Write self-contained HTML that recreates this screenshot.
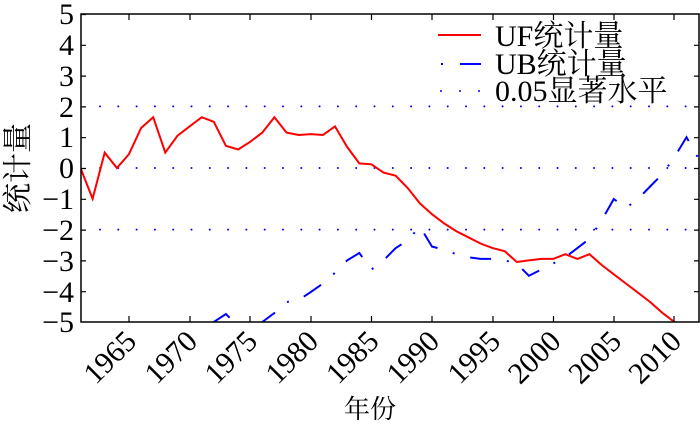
<!DOCTYPE html>
<html><head><meta charset="utf-8"><style>
body{margin:0;background:#fff}
text{font-family:"Liberation Serif","Times New Roman",Times,"DejaVu Serif","Noto Serif CJK SC",serif !important}
</style></head><body>
<svg width="700" height="424" viewBox="0 0 700 424" xmlns="http://www.w3.org/2000/svg" style="font-family:'Liberation Serif','DejaVu Serif',serif">
<defs><clipPath id="c"><rect x="81" y="14" width="618" height="308"/></clipPath></defs>
<g clip-path="url(#c)" fill="none">
<g stroke="#0000ff" stroke-width="2" stroke-dasharray="0 18.3" stroke-linecap="round">
<line x1="100" y1="106.4" x2="699" y2="106.4"/>
<line x1="100" y1="168" x2="699" y2="168"/>
<line x1="100" y1="229.6" x2="699" y2="229.6"/>
</g>
<polyline stroke="#ff0000" stroke-width="2" points="80.5,168 92.6,198.8 104.7,152.6 116.9,168 129,154.1 141.1,128 153.2,117.2 165.3,152.6 177.5,135.7 189.6,126.4 201.7,117.2 213.8,121.8 225.9,145.8 238.1,149.5 250.2,141.8 262.3,132.6 274.4,117.2 286.5,132.6 298.7,135 310.8,134.1 322.9,135 335,126.4 347.1,146.9 359.3,163.4 371.4,164.3 383.5,172.6 395.6,175.7 407.7,188 419.9,203.4 432,214.2 444.1,223.4 456.2,231.1 468.3,237.3 480.5,243.5 492.6,248.1 504.7,251.2 516.8,262 528.9,260.4 541.1,258.9 553.2,258.9 565.3,254.2 577.4,258.9 589.5,254.2 601.7,265 613.8,274.3 625.9,283.5 638,292.7 650.1,302 662.3,312.8 674.4,322 686.5,331"/>
<polyline stroke="#0000ff" stroke-width="2" stroke-dasharray="2 16 21 16" points="201.7,337 213.8,322 225.9,314 238.1,326 250.2,330 262.3,322 274.4,313 286.5,302 298.7,300 310.8,292 322.9,283.5 335,272.8 347.1,260.4 359.3,253 371.4,269.6 383.5,260.4 395.6,248.1 407.7,240.4 419.9,226.5 432,246.6 444.1,249.7 456.2,254.2 468.3,257.3 480.5,258.9 492.6,258.9 504.7,260.4 516.8,263.5 528.9,275.8 541.1,269.6 553.2,263.5 565.3,257.3 577.4,248.1 589.5,238.8 601.7,220.3 613.8,199 625.9,208 638,199 650.1,186.5 662.3,174.2 674.4,157.2 686.5,137.2 698.6,158.8"/>
</g>
<rect x="81" y="14" width="618" height="308" fill="none" stroke="#000" stroke-width="1.5"/>
<g stroke="#000" stroke-width="1.2">
<path d="M81 14.5h5M81 45.3h5M81 76.1h5M81 106.9h5M81 137.7h5M81 168.5h5M81 199.3h5M81 230.1h5M81 260.9h5M81 291.7h5"/>
<path d="M699 45.3h-5M699 76.1h-5M699 106.9h-5M699 137.7h-5M699 168.5h-5M699 199.3h-5M699 230.1h-5M699 260.9h-5M699 291.7h-5"/>
<path d="M129 322v-6M190 322v-6M250 322v-6M311 322v-6M371.5 322v-6M432 322v-6M493 322v-6M553.5 322v-6M614 322v-6M674 322v-6"/>
<path d="M129 14v6M190 14v6M250 14v6M311 14v6M371.5 14v6M432 14v6M493 14v6M553.5 14v6M614 14v6M674 14v6"/>
</g>
<g font-size="30" text-anchor="end">
<text x="74" y="24">5</text><text x="74" y="55">4</text><text x="74" y="86">3</text><text x="74" y="117">2</text><text x="74" y="147">1</text><text x="74" y="178">0</text><text x="74" y="209">−1</text><text x="74" y="240">−2</text><text x="74" y="271">−3</text><text x="74" y="302">−4</text><text x="74" y="332">−5</text>
</g>
<g font-size="30" text-anchor="end">
<text transform="translate(138,343) rotate(-45)">1965</text>
<text transform="translate(199,343) rotate(-45)">1970</text>
<text transform="translate(259,343) rotate(-45)">1975</text>
<text transform="translate(320,343) rotate(-45)">1980</text>
<text transform="translate(380.5,343) rotate(-45)">1985</text>
<text transform="translate(441,343) rotate(-45)">1990</text>
<text transform="translate(502,343) rotate(-45)">1995</text>
<text transform="translate(562.5,343) rotate(-45)">2000</text>
<text transform="translate(623,343) rotate(-45)">2005</text>
<text transform="translate(683,343) rotate(-45)">2010</text>
</g>
<text x="370" y="418" font-size="26" text-anchor="middle">年份</text>
<text transform="translate(28,168) rotate(-90)" font-size="30" text-anchor="middle">统计量</text>
<line x1="438" y1="35" x2="481" y2="35" stroke="#ff0000" stroke-width="2"/>
<line x1="441" y1="64" x2="481" y2="64" stroke="#0000ff" stroke-width="2" stroke-dasharray="2 17 21 10"/>
<line x1="441" y1="91" x2="481" y2="91" stroke="#0000ff" stroke-width="2" stroke-dasharray="0 19" stroke-linecap="round"/>
<g font-size="30">
<text x="495" y="46">UF统计量</text>
<text x="495" y="74">UB统计量</text>
<text x="495" y="101">0.05显著水平</text>
</g>
</svg>
</body></html>
